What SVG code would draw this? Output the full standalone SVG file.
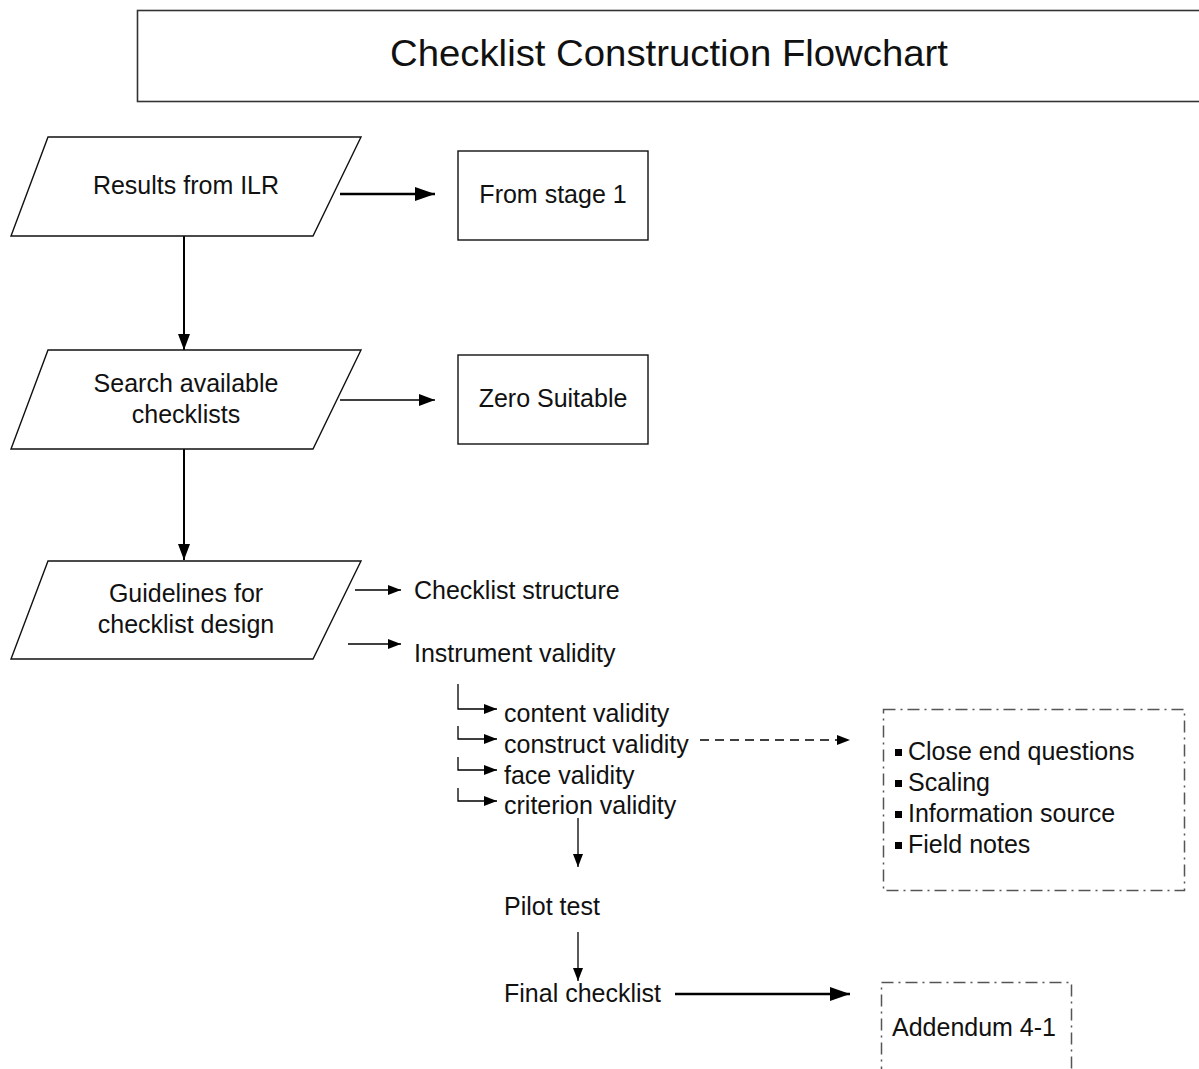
<svg xmlns="http://www.w3.org/2000/svg" width="1199" height="1069" viewBox="0 0 1199 1069">
  <defs>
    <style>
      text { font-family: "Liberation Sans", Arial, sans-serif; fill: #111; }
      .lbl { font-size: 25px; }
      .mid { text-anchor: middle; }
      .shape { fill: #fff; stroke: #111; stroke-width: 1.4; }
      .note { fill: none; stroke: #555; stroke-width: 1.5; stroke-dasharray: 12 5 2 5; }
      .ln { fill: none; stroke: #000; stroke-width: 1.3; }
      .vln { fill: none; stroke: #000; stroke-width: 2; }
      .thick { fill: none; stroke: #000; stroke-width: 2.6; }
      .dash { fill: none; stroke: #000; stroke-width: 1.3; stroke-dasharray: 9 6; }
    </style>
    <marker id="ah" viewBox="0 0 13 10" refX="13" refY="5" markerWidth="13" markerHeight="10" markerUnits="userSpaceOnUse" orient="auto">
      <path d="M0,0 L13,5 L0,10 Z" fill="#000"/>
    </marker>
    <marker id="ahMid" viewBox="0 0 16 12" refX="16" refY="6" markerWidth="16" markerHeight="12" markerUnits="userSpaceOnUse" orient="auto">
      <path d="M0,0 L16,6 L0,12 Z" fill="#000"/>
    </marker>
    <marker id="ahBig" viewBox="0 0 20 14" refX="20" refY="7" markerWidth="20" markerHeight="14" markerUnits="userSpaceOnUse" orient="auto">
      <path d="M0,0 L20,7 L0,14 Z" fill="#000"/>
    </marker>
  </defs>

  <g id="title">
    <rect x="137.5" y="10.5" width="1080" height="91" fill="#fff" stroke="#333" stroke-width="1.6"/>
    <text x="669" y="66" font-size="36" class="mid" textLength="558" lengthAdjust="spacingAndGlyphs">Checklist Construction Flowchart</text>
  </g>

  <g id="connectors">
    <line class="thick" x1="340" y1="194" x2="435" y2="194" marker-end="url(#ahBig)"/>
    <line class="vln" x1="184" y1="236" x2="184" y2="350" marker-end="url(#ahMid)"/>
    <line class="ln" x1="340" y1="400" x2="435" y2="400" marker-end="url(#ahMid)"/>
    <line class="vln" x1="184" y1="449" x2="184" y2="560" marker-end="url(#ahMid)"/>
    <line class="ln" x1="355" y1="590" x2="401" y2="590" marker-end="url(#ah)"/>
    <line class="ln" x1="348" y1="644" x2="401" y2="644" marker-end="url(#ah)"/>
    <path class="ln" d="M458,684 V709 H497" marker-end="url(#ah)"/>
    <path class="ln" d="M458,726 V739 H497" marker-end="url(#ah)"/>
    <path class="ln" d="M458,757 V770 H497" marker-end="url(#ah)"/>
    <path class="ln" d="M458,788 V801 H497" marker-end="url(#ah)"/>
    <line class="dash" x1="700" y1="740" x2="850" y2="740" marker-end="url(#ah)"/>
    <line class="ln" x1="578" y1="818" x2="578" y2="867" marker-end="url(#ah)"/>
    <line class="ln" x1="578" y1="932" x2="578" y2="981" marker-end="url(#ah)"/>
    <line class="thick" x1="675" y1="994" x2="850" y2="994" marker-end="url(#ahBig)"/>
  </g>

  <g id="results-ilr">
    <polygon class="shape" points="48,137 361,137 313,236 11,236"/>
    <text class="lbl mid" x="186" y="194">Results from ILR</text>
  </g>

  <g id="from-stage-1">
    <rect class="shape" x="458" y="151" width="190" height="89"/>
    <text class="lbl mid" x="553" y="203">From stage 1</text>
  </g>

  <g id="search-checklists">
    <polygon class="shape" points="48,350 361,350 313,449 11,449"/>
    <text class="lbl mid" x="186" y="392">Search available</text>
    <text class="lbl mid" x="186" y="423">checklists</text>
  </g>

  <g id="zero-suitable">
    <rect class="shape" x="458" y="355" width="190" height="89"/>
    <text class="lbl mid" x="553" y="407">Zero Suitable</text>
  </g>

  <g id="guidelines">
    <polygon class="shape" points="48,561 361,561 313,659 11,659"/>
    <text class="lbl mid" x="186" y="602">Guidelines for</text>
    <text class="lbl mid" x="186" y="633">checklist design</text>
  </g>

  <g id="checklist-structure">
    <text class="lbl" x="414" y="599">Checklist structure</text>
  </g>

  <g id="instrument-validity">
    <text class="lbl" x="414" y="662">Instrument validity</text>
  </g>

  <g id="validity-types">
    <text class="lbl" x="504" y="722">content validity</text>
    <text class="lbl" x="504" y="753">construct validity</text>
    <text class="lbl" x="504" y="784">face validity</text>
    <text class="lbl" x="504" y="814">criterion validity</text>
  </g>

  <g id="construct-notes">
    <rect class="note" x="883.5" y="709.5" width="301" height="181"/>
    <rect x="895" y="749" width="7" height="7" fill="#000"/>
    <rect x="895" y="780" width="7" height="7" fill="#000"/>
    <rect x="895" y="811" width="7" height="7" fill="#000"/>
    <rect x="895" y="842" width="7" height="7" fill="#000"/>
    <text class="lbl" x="908" y="760">Close end questions</text>
    <text class="lbl" x="908" y="791">Scaling</text>
    <text class="lbl" x="908" y="822">Information source</text>
    <text class="lbl" x="908" y="853">Field notes</text>
  </g>

  <g id="pilot-test">
    <text class="lbl" x="504" y="915">Pilot test</text>
  </g>

  <g id="final-checklist">
    <text class="lbl" x="504" y="1002">Final checklist</text>
  </g>

  <g id="addendum">
    <rect class="note" x="881.5" y="982.5" width="190" height="110"/>
    <text class="lbl" x="892" y="1036">Addendum 4-1</text>
  </g>
</svg>
